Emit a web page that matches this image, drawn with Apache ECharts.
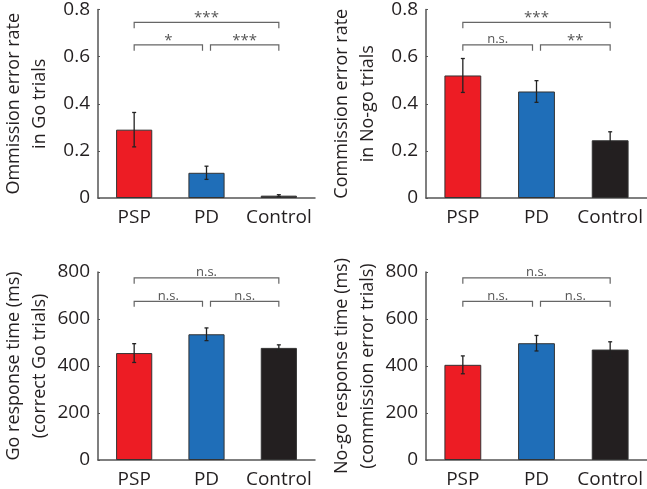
<!DOCTYPE html>
<html>
<head>
<meta charset="utf-8">
<script src="https://cdn.jsdelivr.net/npm/echarts@6/dist/echarts.min.js"></script>
<style>
  html, body { margin: 0; padding: 0; background: #fff; }
  #chart { width: 647px; height: 489px; }
</style>
</head>
<body>
<div id="chart"></div>
<script>
const groups = ['PSP', 'PD', 'Control'];
const barColors = ['#ED1C24', '#1F6EB8', '#231F20'];

const omission = [0.29, 0.107, 0.01];
const omissionErr = [0.073, 0.028, 0.004];
const commission = [0.52, 0.452, 0.245];
const commissionErr = [0.072, 0.046, 0.036];
const goRT = [455, 535, 477];
const goRTErr = [40, 27, 13];
const nogoRT = [405, 497, 470];
const nogoRTErr = [38, 33, 33];

// brackets: [from, to, lineY, legY, label]
const omissionSig = [[0, 2, 0.745, 0.72, '***'], [0, 1, 0.65, 0.625, '*'], [1, 2, 0.65, 0.625, '***']];
const commissionSig = [[0, 2, 0.745, 0.72, '***'], [0, 1, 0.65, 0.625, 'n.s.'], [1, 2, 0.65, 0.625, '**']];
const goRTSig = [[0, 2, 775, 750, 'n.s.'], [0, 1, 675, 652, 'n.s.'], [1, 2, 675, 652, 'n.s.']];
const nogoRTSig = [[0, 2, 775, 750, 'n.s.'], [0, 1, 675, 652, 'n.s.'], [1, 2, 675, 652, 'n.s.']];

const panels = [
  { name: 'Ommission error rate\nin Go trials', values: omission, err: omissionErr, sig: omissionSig, max: 0.8, interval: 0.2 },
  { name: 'Commission error rate\nin No-go trials', values: commission, err: commissionErr, sig: commissionSig, max: 0.8, interval: 0.2 },
  { name: 'Go response time (ms)\n(correct Go trials)', values: goRT, err: goRTErr, sig: goRTSig, max: 800, interval: 200 },
  { name: 'No-go response time (ms)\n(commission error trials)', values: nogoRT, err: nogoRTErr, sig: nogoRTSig, max: 800, interval: 200 }
];

const grids = [
  { left: 94, top: 7, width: 221, height: 191 },
  { left: 426, top: 7, width: 222, height: 191 },
  { left: 94, top: 272, width: 221, height: 190 },
  { left: 426, top: 272, width: 222, height: 190 }
];

const font = '"Open Sans", "Noto Sans", sans-serif';
const axisColor = '#555';

const chart = echarts.init(document.getElementById('chart'));

const xAxes = [], yAxes = [], series = [];
panels.forEach((p, i) => {
  xAxes.push({
    type: 'category',
    gridIndex: i,
    data: groups,
    axisLine: { lineStyle: { color: axisColor, width: 1.5 } },
    axisTick: { show: false },
    axisLabel: { interval: 0, color: '#231F20', fontSize: 19, fontFamily: font, margin: 10 }
  });
  yAxes.push({
    type: 'value',
    gridIndex: i,
    min: 0,
    max: p.max,
    interval: p.interval,
    name: p.name,
    nameLocation: 'middle',
    nameRotate: 90,
    nameGap: 45,
    nameTextStyle: { color: '#231F20', fontSize: 18, fontFamily: font, lineHeight: 26 },
    splitLine: { show: false },
    axisLine: { show: true, lineStyle: { color: axisColor, width: 1.5 } },
    axisTick: { show: true, inside: true, length: 2, lineStyle: { color: axisColor } },
    axisLabel: { color: '#231F20', fontSize: 19, fontFamily: font, margin: 8 }
  });
  series.push({
    type: 'bar',
    xAxisIndex: i,
    yAxisIndex: i,
    barWidth: '50%',
    data: p.values.map((v, k) => ({
      value: v,
      itemStyle: { color: barColors[k], borderColor: '#333', borderWidth: 1 }
    })),
    z: 2
  });
  series.push({
    type: 'custom',
    xAxisIndex: i,
    yAxisIndex: i,
    data: p.values.map((v, k) => [k, v - p.err[k], v + p.err[k]]),
    renderItem: (params, api) => {
      const lo = api.coord([api.value(0), api.value(1)]);
      const hi = api.coord([api.value(0), api.value(2)]);
      const s = { stroke: '#222', lineWidth: 1.3 };
      return {
        type: 'group',
        children: [
          { type: 'line', shape: { x1: lo[0], y1: lo[1], x2: hi[0], y2: hi[1] }, style: s },
          { type: 'line', shape: { x1: hi[0] - 2, y1: hi[1], x2: hi[0] + 2, y2: hi[1] }, style: s },
          { type: 'line', shape: { x1: lo[0] - 2, y1: lo[1], x2: lo[0] + 2, y2: lo[1] }, style: s }
        ]
      };
    },
    z: 5
  });
  series.push({
    type: 'custom',
    xAxisIndex: i,
    yAxisIndex: i,
    data: p.sig,
    renderItem: (params, api) => {
      const from = api.value(0), to = api.value(1);
      const a = api.coord([from, api.value(2)]);
      const b = api.coord([to, api.value(2)]);
      const legA = api.coord([from, api.value(3)]);
      let x1 = a[0], x2 = b[0];
      if (from === 1) x1 += 4;
      if (to === 1) x2 -= 4;
      const s = { stroke: '#666', lineWidth: 1.2 };
      const label = p.sig[params.dataIndex][4];
      const stars = label.indexOf('*') >= 0;
      return {
        type: 'group',
        children: [
          { type: 'polyline', shape: { points: [[x1, legA[1]], [x1, a[1]], [x2, a[1]], [x2, legA[1]]] }, style: Object.assign({ fill: null }, s) },
          { type: 'text', style: {
              text: label, x: (x1 + x2) / 2, y: a[1] + (stars ? 3 : 1),
              align: 'center', verticalAlign: 'bottom',
              fill: '#555', fontSize: stars ? 15 : 13, fontFamily: font
          } }
        ]
      };
    },
    z: 5
  });
});

chart.setOption({
  backgroundColor: '#fff',
  animation: false,
  grid: grids,
  xAxis: xAxes,
  yAxis: yAxes,
  series: series
});
</script>
</body>
</html>
